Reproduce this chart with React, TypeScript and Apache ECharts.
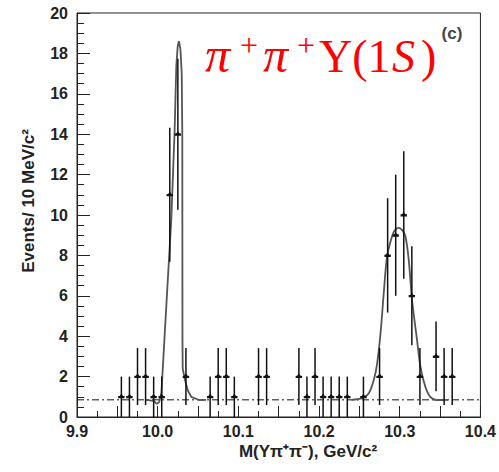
import React, { useEffect, useRef } from "react";
import * as echarts from "echarts";

// Bin centres (GeV/c^2) and event counts
const masses = [
  9.955, 9.965, 9.975, 9.985, 9.995, 10.005, 10.015, 10.025, 10.035, 10.065,
  10.075, 10.085, 10.095, 10.125, 10.135, 10.175, 10.185, 10.195, 10.205,
  10.215, 10.225, 10.235, 10.255, 10.275, 10.285, 10.295, 10.305, 10.315,
  10.325, 10.345, 10.355, 10.365,
];
const counts = [
  1, 1, 2, 2, 1, 1, 11, 14, 2, 1, 2, 2, 1, 2, 2, 2, 1, 2, 1, 1, 1, 1, 1, 2, 8,
  9, 10, 6, 2, 3, 2, 2,
];
// Symmetric errors
const errors = [
  1, 1, 1.41, 1.41, 1, 1, 3.32, 3.74, 1.41, 1, 1.41, 1.41, 1, 1.41, 1.41, 1.41,
  1, 1.41, 1, 1, 1, 1, 1, 1.41, 2.83, 3, 3.16, 2.45, 1.41, 1.73, 1.41, 1.41,
];

// Fit curve
const fitPeak1 = [
  [9.985, 0.85], [9.995, 0.8], [9.999, 0.65], [10.002, 0.75], [10.0046, 1.2],
  [10.0107, 5.5], [10.0169, 9.8], [10.021, 14.2], [10.0231, 17.4],
  [10.0248, 18.35], [10.0263, 18.6], [10.0282, 18.2], [10.0298, 17.0],
  [10.0305, 14.0], [10.0306, 9.0], [10.0307, 4.0], [10.031, 2.4],
  [10.0334, 1.9], [10.0375, 1.3], [10.0416, 1.0], [10.0515, 0.84], [10.06, 0.85],
];
const fitPeak2 = [
  [10.24, 0.85], [10.2535, 0.93], [10.2617, 1.18], [10.2679, 1.84],
  [10.272, 2.66], [10.2762, 4.15], [10.2802, 6.14], [10.2843, 7.95],
  [10.2905, 8.95], [10.2945, 9.28], [10.2988, 9.36], [10.303, 9.25],
  [10.307, 8.95], [10.3111, 7.8], [10.3152, 5.8], [10.3214, 3.82],
  [10.3256, 2.5], [10.3317, 1.5], [10.3379, 1.0], [10.346, 0.84], [10.36, 0.85],
];
const background = 0.85;
const xRange = [9.9, 10.4];
const yRange = [0, 20];

export default function App() {
  const ref = useRef<HTMLDivElement>(null);
  useEffect(() => {
    const chart = echarts.init(ref.current!, null, { renderer: "svg" });
    const axisFont = {
      fontFamily: "Liberation Sans",
      fontWeight: "bold" as const,
      fontSize: 16,
      color: "#222",
    };
    const points = masses.map((m, i) => [m, counts[i], errors[i]]);
    const red = "#f00";
    chart.setOption({
      animation: false,
      backgroundColor: "#fff",
      grid: {
        left: 77,
        right: 17,
        top: 13,
        bottom: 55,
        show: true,
        borderColor: "#222",
        borderWidth: 1,
      },
      xAxis: {
        type: "value",
        min: xRange[0],
        max: xRange[1],
        interval: 0.05,
        axisLine: { show: true, lineStyle: { color: "#222", width: 1 } },
        axisTick: { show: true, inside: true, length: 11, lineStyle: { color: "#222" } },
        minorTick: { show: true, splitNumber: 2, length: 6, lineStyle: { color: "#222" } },
        splitLine: { show: false },
        axisLabel: {
          ...axisFont,
          margin: 6,
          formatter: (v: number) =>
            Math.abs(v * 10 - Math.round(v * 10)) < 1e-6 ? v.toFixed(1) : "",
        },
      },
      yAxis: {
        type: "value",
        min: yRange[0],
        max: yRange[1],
        interval: 2,
        axisLine: { show: true, lineStyle: { color: "#222", width: 1 } },
        axisTick: { show: true, inside: true, length: 13, lineStyle: { color: "#222" } },
        minorTick: { show: true, splitNumber: 4, length: 7, lineStyle: { color: "#222" } },
        splitLine: { show: false },
        axisLabel: { ...axisFont, margin: 9 },
      },
      series: [
        {
          type: "line",
          data: [[xRange[0], background], [xRange[1], background]],
          symbol: "none",
          lineStyle: { color: "#111", width: 1, type: [7, 3, 2, 3] },
          z: 1,
        },
        {
          type: "line",
          data: fitPeak1,
          symbol: "none",
          smooth: false,
          lineStyle: { color: "#555", width: 1.8 },
          z: 2,
        },
        {
          type: "line",
          data: fitPeak2,
          symbol: "none",
          smooth: 0.3,
          lineStyle: { color: "#555", width: 1.8 },
          z: 2,
        },
        {
          type: "custom",
          data: points,
          z: 3,
          renderItem: (params: any, api: any) => {
            const m = api.value(0);
            const n = api.value(1);
            const e = api.value(2);
            const c = api.coord([m, n]);
            const top = api.coord([m, n + e]);
            const bot = api.coord([m, Math.max(0, n - e)]);
            const l = api.coord([m - 0.004, n]);
            const r = api.coord([m + 0.004, n]);
            const st = { stroke: "#111", lineWidth: 1.5 };
            return {
              type: "group",
              children: [
                { type: "line", shape: { x1: top[0], y1: top[1], x2: bot[0], y2: bot[1] }, style: st },
                { type: "line", shape: { x1: l[0], y1: l[1], x2: r[0], y2: r[1] }, style: st },
                {
                  type: "polygon",
                  shape: {
                    points: [
                      [c[0] - 3.5, c[1] + 1.5],
                      [c[0], c[1] - 3],
                      [c[0] + 3.5, c[1] + 1.5],
                    ],
                  },
                  style: { fill: "#111" },
                },
              ],
            };
          },
        },
      ],
      graphic: [
        {
          type: "text",
          x: 28,
          y: 201,
          rotation: Math.PI / 2,
          style: {
            text: "Events/ 10 MeV/c²",
            font: "bold 17px 'Liberation Sans'",
            fill: "#222",
            align: "center",
            verticalAlign: "middle",
          },
        },
        {
          type: "text",
          x: 308,
          y: 451,
          style: {
            text: "M(Υπ⁺π⁻), GeV/c²",
            font: "bold 17px 'Liberation Sans'",
            fill: "#222",
            align: "center",
            verticalAlign: "middle",
          },
        },
        {
          type: "text",
          x: 452,
          y: 33,
          style: {
            text: "(c)",
            font: "bold 17px 'Liberation Sans'",
            fill: "#444",
            align: "center",
            verticalAlign: "middle",
          },
        },
        { type: "text", x: 205, y: 55, style: { text: "π", font: "italic 50px 'Liberation Serif'", fill: red, verticalAlign: "middle" } },
        { type: "text", x: 240, y: 45, style: { text: "+", font: "32px 'Liberation Serif'", fill: red, verticalAlign: "middle" } },
        { type: "text", x: 263, y: 55, style: { text: "π", font: "italic 50px 'Liberation Serif'", fill: red, verticalAlign: "middle" } },
        { type: "text", x: 297, y: 45, style: { text: "+", font: "32px 'Liberation Serif'", fill: red, verticalAlign: "middle" } },
        { type: "text", x: 319, y: 56, style: { text: "Υ(1", font: "46px 'Liberation Serif'", fill: red, verticalAlign: "middle" } },
        { type: "text", x: 392, y: 56, style: { text: "S", font: "italic 46px 'Liberation Serif'", fill: red, verticalAlign: "middle" } },
        { type: "text", x: 421, y: 56, style: { text: ")", font: "46px 'Liberation Serif'", fill: red, verticalAlign: "middle" } },
      ],
    });
    return () => chart.dispose();
  }, []);
  return (
    <div
      ref={ref}
      style={{ position: "absolute", left: 0, top: 0, width: 499, height: 472 }}
    />
  );
}
